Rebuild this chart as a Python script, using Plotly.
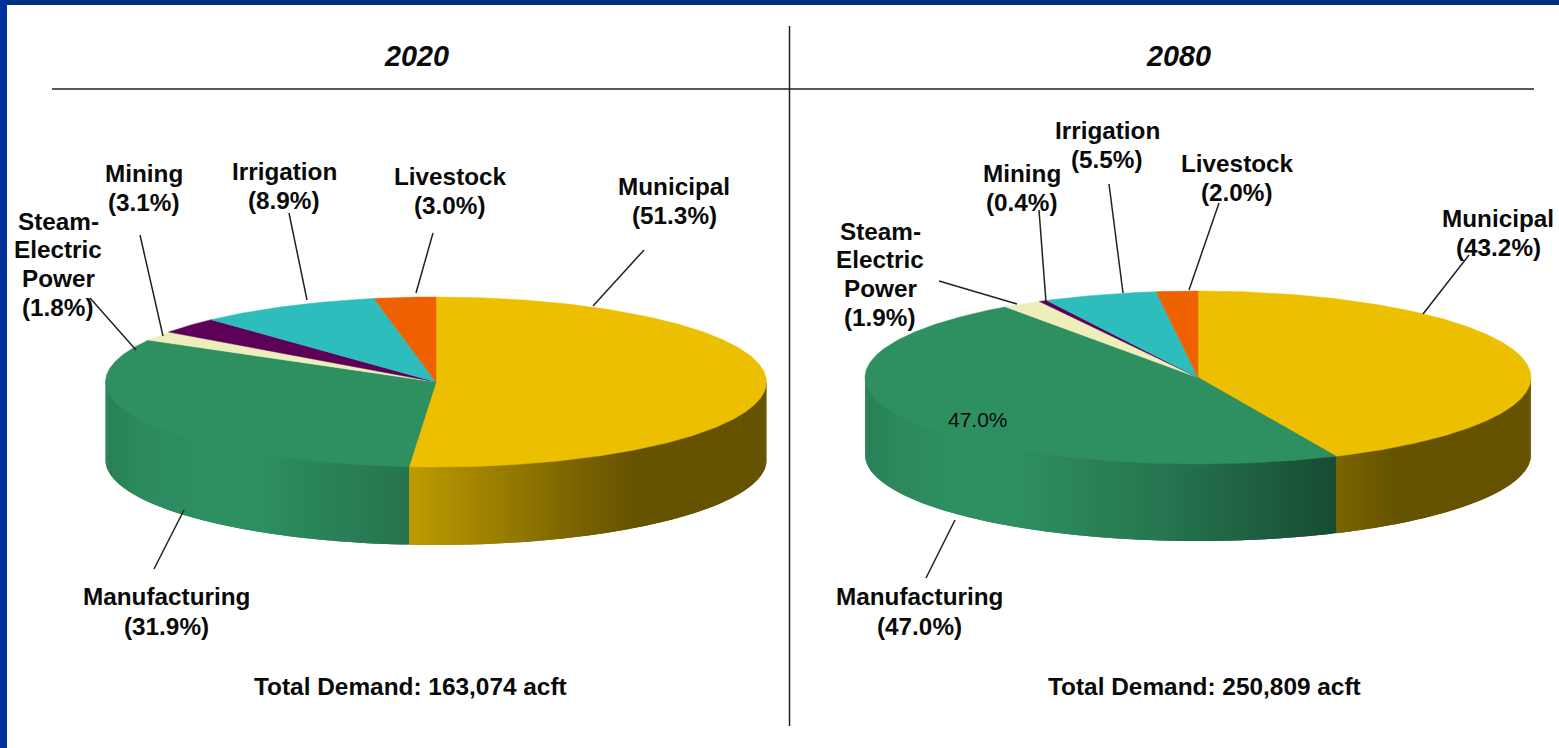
import math
import plotly.graph_objects as go

categories = ["Municipal", "Manufacturing", "Steam-Electric Power", "Mining", "Irrigation", "Livestock"]
values_2020 = [51.3, 31.9, 1.8, 3.1, 8.9, 3.0]
values_2080 = [43.2, 47.0, 1.9, 0.4, 5.5, 2.0]
totals = {"2020": "163,074", "2080": "250,809"}

slice_colors = ["#ecc000", "#2e8f61", "#eeeebb", "#5c0058", "#2dbdbd", "#ee6000"]
FONT = "Liberation Sans"
LABEL_SIZE = 24.3

# pixel-space geometry of the two tilted discs
PIE_L = dict(cx=436, cy=382, rx=330.5, ry=85, depth=78)
PIE_R = dict(cx=1198, cy=377.5, rx=333, ry=86.5, depth=77)

# wall shading as a function of horizontal offset from the disc centre
SHADE = [(-1.0, 0.9), (-0.9, 0.96), (-0.72, 1.0), (-0.55, 1.0), (-0.085, 0.81), (0.42, 0.52), (0.6, 0.43), (1.0, 0.43)]


def shade(u):
    for (a, fa), (b, fb) in zip(SHADE, SHADE[1:]):
        if u <= b:
            return fa + (fb - fa) * (u - a) / (b - a)
    return SHADE[-1][1]


def darken(color, f):
    r, g, b = (int(color[i:i + 2], 16) for i in (1, 3, 5))
    return f"rgb({round(r * f)},{round(g * f)},{round(b * f)})"


def pt(p, deg):
    t = math.radians(deg)
    return p["cx"] + p["rx"] * math.sin(t), p["cy"] - p["ry"] * math.cos(t)


def add_pie(fig, p, values):
    edges = [0.0]
    for v in values:
        edges.append(edges[-1] + v * 3.6)
    # front wall: strips painted in order, each overlapping the next so no seams show;
    # their upper edge is tucked under the top surface
    for i, color in enumerate(slice_colors):
        a0, a1 = max(edges[i], 90.0), min(edges[i + 1], 270.0)
        if a1 <= a0:
            continue
        n = max(1, int((a1 - a0) / 0.8))
        step = (a1 - a0) / n
        for k in range(n):
            s0 = a0 + step * k
            s1 = min(a1, s0 + 2 * step)
            s2 = s0 + step
            x0, y0 = pt(p, s0)
            xm, ym = pt(p, s2)
            x1, y1 = pt(p, s1)
            u = ((x0 + xm) / 2 - p["cx"]) / p["rx"]
            c = darken(color, shade(u))
            d = p["depth"]
            top = p["cy"]
            fig.add_trace(go.Scatter(
                x=[x0, x1, x1, xm, x0, x0],
                y=[top, top, y1 + d, ym + d, y0 + d, top],
                mode="lines", fill="toself", fillcolor=c, line=dict(color=c, width=0),
                hoverinfo="skip", showlegend=False))
    # top surface
    for i, color in enumerate(slice_colors):
        a0, a1 = edges[i], edges[i + 1]
        n = max(2, int((a1 - a0) / 0.5))
        xs, ys = [p["cx"]], [p["cy"]]
        for k in range(n + 1):
            x, y = pt(p, a0 + (a1 - a0) * k / n)
            xs.append(x)
            ys.append(y)
        xs.append(p["cx"])
        ys.append(p["cy"])
        fig.add_trace(go.Scatter(
            x=xs, y=ys, mode="lines", fill="toself", fillcolor=color,
            line=dict(color=color, width=0.5), name=categories[i],
            hoverinfo="name", showlegend=False))


fig = go.Figure()
add_pie(fig, PIE_L, values_2020)
add_pie(fig, PIE_R, values_2080)

shapes = [
    dict(type="rect", x0=0, x1=1559, y0=0, y1=5, fillcolor="#002d7c", line_width=0, layer="above"),
    dict(type="rect", x0=0, x1=7, y0=0, y1=748, fillcolor="#00319b", line_width=0, layer="above"),
    dict(type="line", x0=789.5, x1=789.5, y0=26, y1=726, line=dict(color="#222222", width=1.5)),
    dict(type="line", x0=52, x1=1534, y0=89, y1=89, line=dict(color="#222222", width=1.5)),
]
leaders = [
    (644, 250, 593, 306), (184, 510, 154, 569), (90, 298, 136, 350),
    (140, 235, 163, 336), (289, 213, 307, 300), (433, 233, 416, 293),
    (1469, 255, 1423, 314), (955, 520, 926, 578), (939, 281, 1017, 304),
    (1039, 210, 1046, 302), (1109, 184, 1123, 293), (1219, 203, 1189, 290),
]
for x0, y0, x1, y1 in leaders:
    shapes.append(dict(type="line", x0=x0, y0=y0, x1=x1, y1=y1, line=dict(color="#222222", width=1.5)))

annotations = []


def text(s, x, y, size=LABEL_SIZE, bold=True, italic=False):
    s2 = f"<b>{s}</b>" if bold else s
    s2 = f"<i>{s2}</i>" if italic else s2
    annotations.append(dict(x=x, y=y, text=s2, showarrow=False, xanchor="center", yanchor="middle",
                            font=dict(family=FONT, size=size, color="#0a0a0a")))


def pct(v):
    return f"({v:.1f}%)"


# label anchors: (centre x, y of each line)
for vals, places in [
    (values_2020, [(674, [186, 215]), (166, [596, 626]), (58, [221, 249, 278, 307]),
                   (144, [173, 202]), (284, [171, 200]), (450, [176, 205])]),
    (values_2080, [(1498, [218, 247]), (919, [596, 626]), (880, [231, 259, 288, 317]),
                   (1022, [173, 202]), (1107, [130, 159]), (1237, [163, 192])]),
]:
    for i, (x, ys) in enumerate(places):
        lines = ["Steam-", "Electric", "Power"] if i == 2 else [categories[i]]
        for line, y in zip(lines + [pct(vals[i])], ys):
            text(line, x, y)

text("2020", 416, 56, size=28.8, italic=True)
text("2080", 1178, 56, size=28.8, italic=True)
text(f"Total Demand: {totals['2020']} acft", 410, 686, size=24.4)
text(f"Total Demand: {totals['2080']} acft", 1204, 686, size=24.4)
text(f"{values_2080[1]:.1f}%", 978, 419, size=21, bold=False)

fig.update_layout(
    width=1559, height=748, margin=dict(l=0, r=0, t=0, b=0),
    paper_bgcolor="white", plot_bgcolor="white", showlegend=False,
    xaxis=dict(range=[0, 1559], visible=False, fixedrange=True),
    yaxis=dict(range=[748, 0], visible=False, fixedrange=True),
    shapes=shapes, annotations=annotations,
)
fig.write_html("out.html", config=dict(displayModeBar=False),
               post_script="document.body.style.margin='0';document.body.style.overflow='hidden';")
